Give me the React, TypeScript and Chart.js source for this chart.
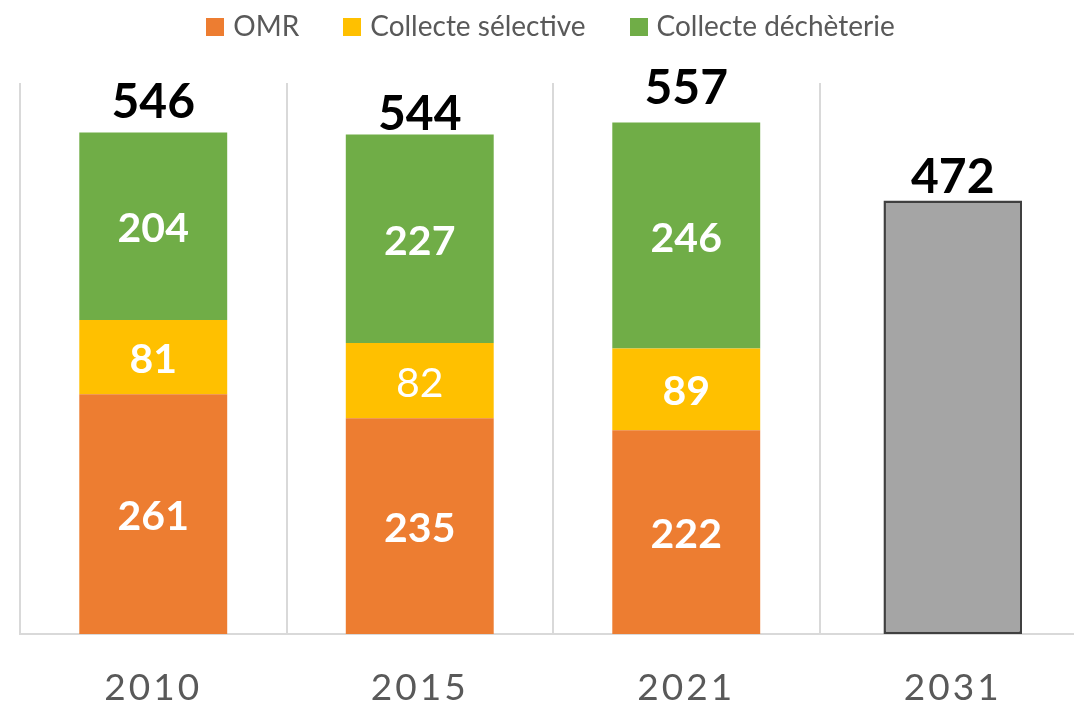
import React, { useEffect, useRef } from 'react';
import { Chart, registerables } from 'chart.js';

Chart.register(...registerables);

const categories = ['2010', '2015', '2021', '2031'];
const omr = [261, 235, 222, null];
const selective = [81, 82, 89, null];
const decheterie = [204, 227, 246, null];
const projection = [null, null, null, 472];
const seriesNames = ['OMR', 'Collecte sélective', 'Collecte déchèterie', 'Projection'];

const COLORS = ['#ED7D31', '#FFC000', '#70AD47', '#A5A5A5'];
const FONT = 'Lato, "Open Sans", sans-serif';
// gap (px) between each total label baseline and its bar top, as placed in the original
const TOTAL_GAPS = [15, 4, 18, 8];

function makeSwatch(color: string) {
  const c = document.createElement('canvas');
  c.width = 18;
  c.height = 18;
  const g = c.getContext('2d')!;
  g.fillStyle = color;
  g.fillRect(0, 0, 18, 18);
  return c;
}

const labelPlugin = {
  id: 'valueLabels',
  afterInit(chart: any) {
    const legend = chart.legend;
    if (legend && !legend._patched) {
      const orig = legend.fit;
      legend.fit = function () {
        orig.call(this);
        this.height += 32;
      };
      legend._patched = true;
    }
  },
  beforeDraw(chart: any) {
    const xs = chart.scales.x;
    if (xs && !xs._lsPatched) {
      const orig = xs.drawLabels;
      xs.drawLabels = function (area: any) {
        const ctx = this.ctx;
        ctx.save();
        (ctx as any).letterSpacing = '3px';
        orig.call(this, area);
        ctx.restore();
      };
      xs._lsPatched = true;
    }
  },
  afterDatasetsDraw(chart: any) {
    const ctx = chart.ctx;
    const yScale = chart.scales.y;
    ctx.save();
    (ctx as any).letterSpacing = '0px';
    ctx.textAlign = 'center';
    for (let d = 0; d < 3; d++) {
      const meta = chart.getDatasetMeta(d);
      const data = chart.data.datasets[d].data;
      meta.data.forEach((el: any, i: number) => {
        const v = data[i];
        if (v == null) return;
        const bold = !(d === 1 && i === 1);
        ctx.font = `${bold ? 'bold ' : ''}41px ${FONT}`;
        ctx.fillStyle = '#FFFFFF';
        ctx.textBaseline = 'middle';
        ctx.fillText(String(v), el.x, (el.y + el.base) / 2 + 3);
      });
    }
    categories.forEach((_, i) => {
      let sum = 0;
      let has = false;
      chart.data.datasets.forEach((ds: any) => {
        const v = ds.data[i];
        if (v != null) {
          sum += v;
          has = true;
        }
      });
      if (!has) return;
      const meta = chart.getDatasetMeta(0);
      const x = meta.data[i].x;
      const y = yScale.getPixelForValue(sum);
      ctx.font = `bold 48px ${FONT}`;
      ctx.fillStyle = '#000000';
      ctx.textBaseline = 'alphabetic';
      ctx.fillText(String(sum), x, y - TOTAL_GAPS[i]);
    });
    ctx.restore();
  },
};

export default function App() {
  const ref = useRef<HTMLCanvasElement>(null);

  useEffect(() => {
    if (!ref.current) return;
    const swatches = COLORS.map(makeSwatch);
    const chart = new Chart(ref.current, {
      type: 'bar',
      data: {
        labels: categories,
        datasets: [
          { label: seriesNames[0], data: omr, backgroundColor: COLORS[0] },
          { label: seriesNames[1], data: selective, backgroundColor: COLORS[1] },
          { label: seriesNames[2], data: decheterie, backgroundColor: COLORS[2] },
          {
            label: seriesNames[3],
            data: projection,
            backgroundColor: COLORS[3],
            borderColor: '#404040',
            borderWidth: 2.5,
            borderSkipped: false,
            barPercentage: 0.52,
          } as any,
        ],
      },
      options: {
        responsive: false,
        animation: false,
        layout: { padding: { left: 20, right: 0, top: 0, bottom: 0 } },
        datasets: { bar: { categoryPercentage: 1, barPercentage: 0.555 } } as any,
        plugins: {
          legend: {
            position: 'top',
            labels: {
              usePointStyle: true,
              pointStyleWidth: 8,
              padding: 49,
              color: '#595959',
              font: { family: FONT, size: 28 },
              generateLabels: (c: any) =>
                Chart.defaults.plugins.legend.labels
                  .generateLabels(c)
                  .filter((l: any) => l.datasetIndex < 3)
                  .map((l: any) => ({ ...l, pointStyle: swatches[l.datasetIndex], fontColor: '#595959' })),
            },
          },
          tooltip: { enabled: false },
        },
        scales: {
          x: {
            stacked: true,
            offset: true,
            grid: { display: true, offset: true, color: '#D9D9D9', lineWidth: 2, drawTicks: false },
            border: { display: true, color: '#D9D9D9', width: 2 },
            ticks: {
              color: '#595959',
              padding: 36,
              font: { family: FONT, size: 37, lineHeight: 1 },
            },
          },
          y: {
            stacked: true,
            display: false,
            min: 0,
            max: 600,
          },
        },
      },
      plugins: [labelPlugin],
    });
    return () => chart.destroy();
  }, []);

  return (
    <div style={{ position: 'absolute', left: 0, top: 0, width: 1074, height: 705, overflow: 'hidden', background: '#fff' }}>
      <div style={{ position: 'absolute', left: 0, top: -36 }}>
        <canvas ref={ref} width={1086} height={779} style={{ display: 'block' }} />
      </div>
    </div>
  );
}
